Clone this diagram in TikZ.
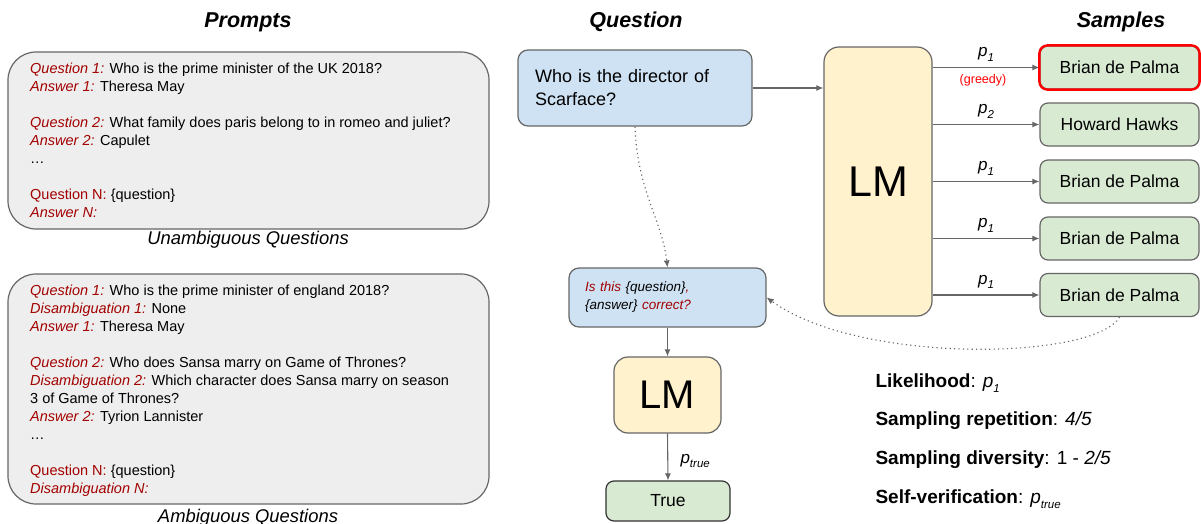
\documentclass[tikz,border=0pt]{standalone}
\usepackage{fontspec}
\setmainfont{Liberation Sans}
\usetikzlibrary{arrows.meta,positioning}
\definecolor{qred}{HTML}{A30000}
\definecolor{greedy}{HTML}{FF0000}
\definecolor{edgegray}{HTML}{666666}
\definecolor{truedark}{HTML}{333333}
\definecolor{promptfill}{HTML}{EEEEEE}
\definecolor{qblue}{HTML}{CFE2F3}
\definecolor{lmyellow}{HTML}{FFF2CC}
\definecolor{sgreen}{HTML}{D9EAD3}
\newcommand{\qlab}[1]{\textcolor{qred}{\textit{#1}}}
\newcommand{\qup}[1]{\textcolor{qred}{#1}}
\newcommand{\pidx}[1]{\textit{p}\raisebox{-.55ex}{\fontsize{11.5}{12}\selectfont\textit{#1}}}

\begin{document}
\begin{tikzpicture}[x=1pt,y=-1pt,
  box/.style={draw=edgegray,line width=1.2pt,inner sep=0pt},
  promptbox/.style={box,fill=promptfill,rounded corners=28pt,minimum width=481pt},
  prompttext/.style={anchor=north west,align=left,inner sep=0pt,font=\fontsize{14.5}{18}\selectfont},
  questbox/.style={box,fill=qblue,rounded corners=10pt,align=left},
  lmbox/.style={box,fill=lmyellow,rounded corners=15pt},
  samplebox/.style={box,fill=sgreen,rounded corners=8pt,minimum width=159pt,minimum height=43pt,font=\fontsize{17.5}{21}\selectfont},
  headline/.style={font=\fontsize{21.5}{24}\selectfont\bfseries\itshape},
  caption/.style={font=\fontsize{18.4}{22}\selectfont\itshape},
  score/.style={anchor=base west,font=\fontsize{19}{22}\selectfont},
  flow/.style={draw=edgegray,line width=1.1pt,-{Latex[length=7pt,width=6pt]}},
  hint/.style={flow,dash pattern=on 1.2pt off 3.2pt}]
\useasboundingbox (0,0) rectangle (1201,524);

\node[headline] (prompts) at (248,22) {Prompts};
\node[headline] (questionhead) at (636,22) {Question};
\node[headline] (sampleshead) at (1121,22) {Samples};

\node[promptbox,minimum height=177pt] (unamb) at (248.5,140.5) {};
\node[prompttext] (unambtxt) at (30,62.5) {%
\qlab{Question 1:} Who is the prime minister of the UK 2018?\\
\qlab{Answer 1:} Theresa May\\[18pt]
\qlab{Question 2:} What family does paris belong to in romeo and juliet?\\
\qlab{Answer 2:} Capulet\\
…\\[18pt]
\qup{Question N:} \{question\}\\
\qlab{Answer N:}};
\node[caption] (unambcap) at (248,240) {Unambiguous Questions};

\node[promptbox,minimum height=230pt] (amb) at (248.5,389) {};
\node[prompttext] (ambtxt) at (30,284.5) {%
\qlab{Question 1:} Who is the prime minister of england 2018?\\
\qlab{Disambiguation 1:} None\\
\qlab{Answer 1:} Theresa May\\[18pt]
\qlab{Question 2:} Who does Sansa marry on Game of Thrones?\\
\qlab{Disambiguation 2:} Which character does Sansa marry on season\\
3 of Game of Thrones?\\
\qlab{Answer 2:} Tyrion Lannister\\
…\\[18pt]
\qup{Question N:} \{question\}\\
\qlab{Disambiguation N:}};
\node[caption] (ambcap) at (248,518) {Ambiguous Questions};

\node[questbox,text width=200pt,inner xsep=17pt,minimum height=76pt,font=\fontsize{18}{23}\selectfont] (qbox) at (635,88) {Who is the director of\\Scarface?};
\node[lmbox,minimum width=108pt,minimum height=269pt,font=\fontsize{43}{43}\selectfont] (lm) at (878,181.5) {LM};
\draw[flow] (qbox.east) -- (qbox.east -| lm.west);

\foreach \i/\yy/\ans/\pp in {1/67.5/Brian de Palma/1,2/124.5/Howard Hawks/2,3/181.5/Brian de Palma/1,4/238.5/Brian de Palma/1,5/295/Brian de Palma/1}{
  \node[samplebox] (s\i) at (1119.5,\yy) {\ans};
  \draw[flow] (lm.east |- s\i.west) -- node[anchor=base,yshift=11pt,font=\fontsize{17}{20}\selectfont] (p\i) {\pidx{\pp}} (s\i.west);
}
\draw[greedy,line width=2.4pt,rounded corners=8pt] (s1.south west) rectangle (s1.north east);
\node[text=greedy,font=\fontsize{12.5}{14}\selectfont] (greedytag) at (983,80) {(greedy)};

\node[questbox,text width=165pt,inner xsep=16pt,minimum height=59pt,font=\fontsize{13.5}{18}\selectfont\itshape] (check) at (667.5,297.5) {\textcolor{qred}{Is this} \{question\}\textcolor{qred}{,}\\\{answer\} \textcolor{qred}{correct?}};
\node[lmbox,rounded corners=14pt,minimum width=107pt,minimum height=76pt,font=\fontsize{40}{40}\selectfont] (lmsmall) at (667.5,395) {LM};
\node[box,fill=sgreen,draw=truedark,rounded corners=8pt,minimum width=124pt,minimum height=40pt,font=\fontsize{17.5}{20}\selectfont] (truebox) at (668,501) {True};

\draw[hint] (qbox.south) .. controls (637,190) and (662,220) .. (check.north);
\draw[hint] (s5.south) .. controls (1095,360) and (860,365) .. (check.east);
\draw[flow] (check.south) -- (lmsmall.north);
\draw[flow] (lmsmall.south) -- (truebox.north);
\node[anchor=base west,font=\fontsize{17}{20}\selectfont] (ptrue) at (677,463) {\pidx{true}};

\node[score] (likelihood) at (872,387) {\textbf{Likelihood}: \pidx{1}};
\node[score] (repetition) at (872,425) {\textbf{Sampling repetition}: \textit{4/5}};
\node[score] (diversity) at (872,464) {\textbf{Sampling diversity}: 1 - \textit{2/5}};
\node[score] (selfver) at (872,503) {\textbf{Self-verification}: \pidx{true}};
\end{tikzpicture}
\end{document}
